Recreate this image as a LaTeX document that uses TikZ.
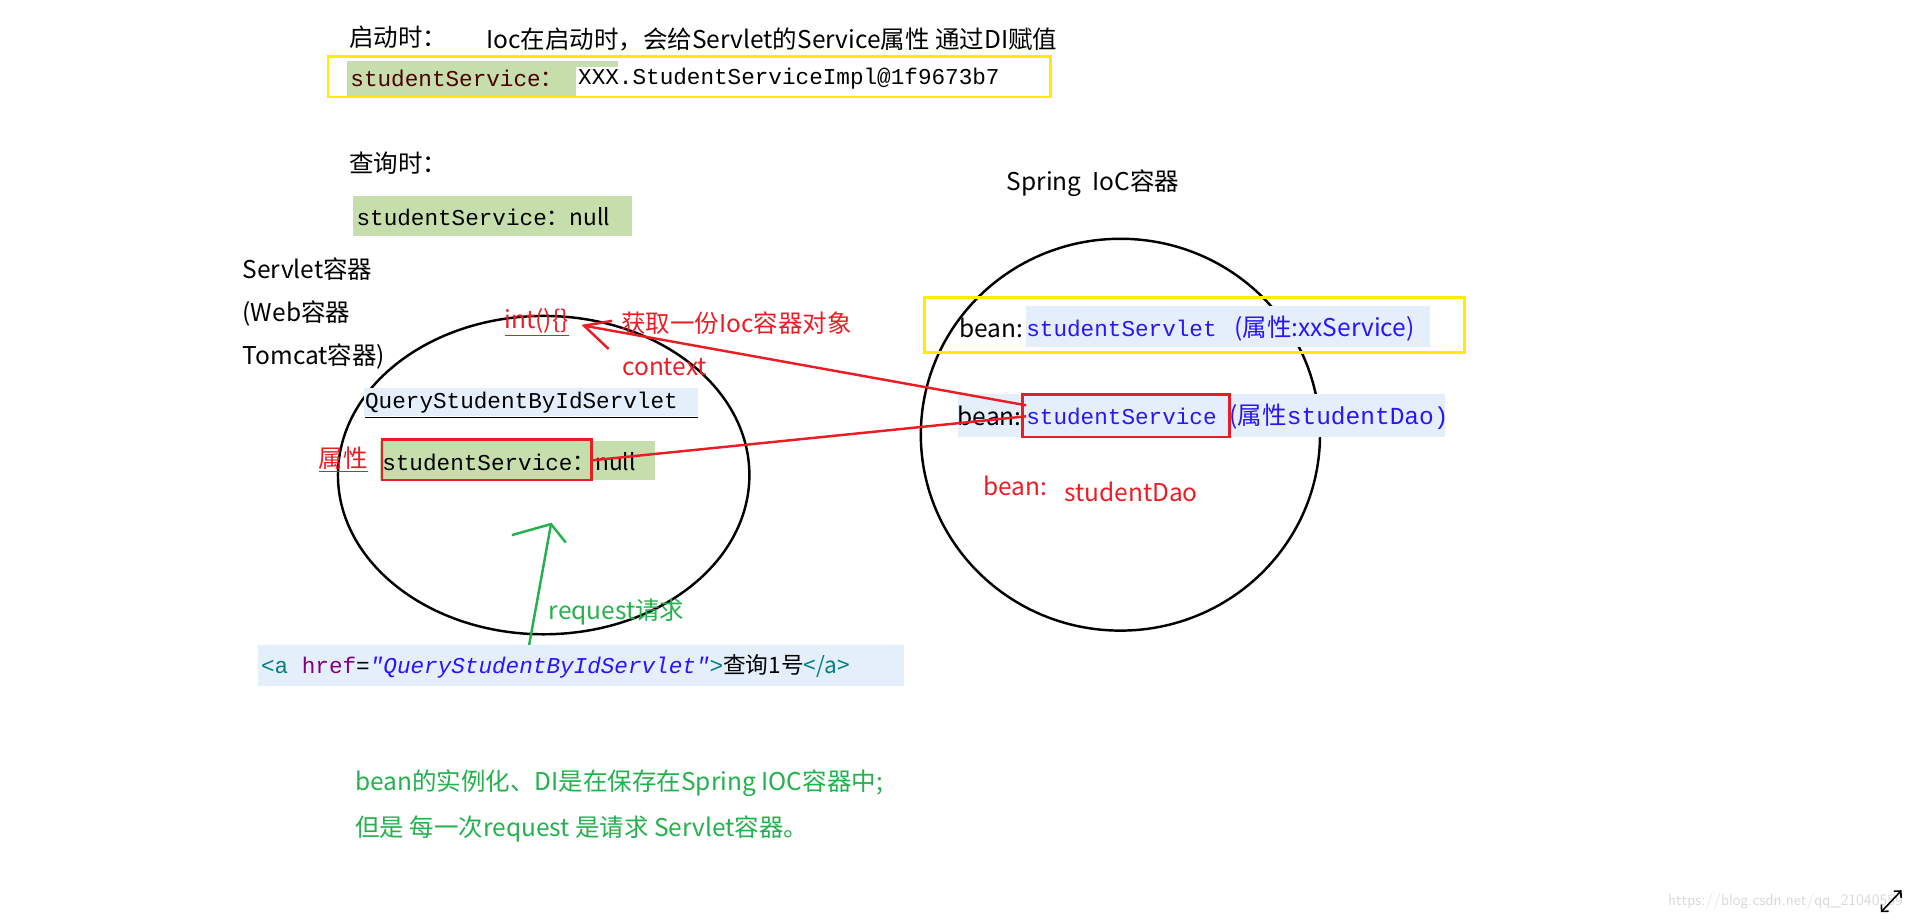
\documentclass[tikz,border=0pt]{standalone}
\usepackage{fontspec}
\setmainfont{Noto Sans CJK SC}
\setmonofont{Liberation Mono}
\newfontfamily\cjk{Noto Sans CJK SC}
\usetikzlibrary{arrows.meta}
\definecolor{hlgreen}{RGB}{198,221,172}
\definecolor{hlblue}{RGB}{229,239,252}
\definecolor{ylw}{RGB}{255,236,0}
\definecolor{rd}{RGB}{236,28,36}
\definecolor{gr}{RGB}{34,177,76}
\definecolor{bl}{RGB}{40,20,255}
\definecolor{teal2}{RGB}{0,128,128}
\definecolor{purp}{RGB}{128,0,128}
\tikzset{
 t/.style={anchor=west,inner sep=0pt,font=\fontsize{20}{24}\selectfont},
 m/.style={anchor=west,inner sep=0pt,font=\fontsize{18.5}{22}\selectfont\ttfamily},
 circ/.style={draw=black,line width=2pt},
 rline/.style={draw=rd,line width=2pt},
}
\begin{document}
\begin{tikzpicture}[x=1pt,y=-1pt]
\useasboundingbox (0,0) rectangle (1568,751);
% top
\node[t] (start) at (285,30) {启动时：};
\node[t] (ioc) at (397,32) {Ioc在启动时，会给Servlet的Service属性 通过DI赋值};
\fill[hlgreen] (283,50) rectangle (470,78);
\fill[hlgreen] (283,50) rectangle (505,55);
\node[m,text=black!70!red] (ss1) at (286,64) {studentService\cjk{：}};
\node[m] (impl) at (472,64) {XXX.StudentServiceImpl@1f9673b7};
\draw[ylw,line width=2pt] (268,46) rectangle (858,79);
\node[t] (query) at (285,133) {查询时：};
\fill[hlgreen] (288,160) rectangle (516,193);
\node[m] (ss2) at (291,177) {studentService\cjk{：}\cjk{null}};
\node[t] (spring) at (822,150) {Spring \ IoC容器};
\node[t] (sc1) at (198,220) {Servlet容器};
\node[t] (sc2) at (198,256) {(Web容器};
\node[t] (sc3) at (198,291) {Tomcat容器)};
% ellipses
\draw[circ] (444,388) ellipse [x radius=168,y radius=130];
\draw[circ] (915,355) ellipse [x radius=163,y radius=160];
% left contents
\node[t,text=rd] (init) at (412,263) {\underline{int()\{\}}};
\node[t,text=rd] (get) at (507,264) {获取一份Ioc容器对象};
\node[t,text=rd] (ctx) at (508,300) {context};
\fill[hlblue] (297,317) rectangle (570,340);
\node[m] (qs) at (298,329) {QueryStudentByIdServlet};
\draw[line width=1.2pt] (298,341) -- (570,341);
\node[t,text=rd] (attr) at (260,375) {\underline{属性}};
\fill[hlgreen] (310,360) rectangle (535,392);
\node[m] (ss3) at (312,377) {studentService\cjk{：}\cjk{null}};
\draw[rline] (312,359) rectangle (483,392);
\coordinate (boxL) at (483,376);
\coordinate (tip) at (477,266);
% right contents
\draw[ylw,line width=2pt] (755,243) rectangle (1196,288);
\fill[hlblue] (838,250) rectangle (1168,283);
\node[t] (b1) at (783,268) {bean:};
\node[m,text=bl] (b1s) at (838,268) {studentServlet};
\node[t,text=bl] (b1a) at (1008,268) {(属性:xxService)};
\fill[hlblue] (782,322) rectangle (1180,357);
\node[t] (b2) at (782,340) {bean:};
\node[m,text=bl] (b2s) at (838,340) {studentService};
\node[t,text=bl] (b2a) at (1004,340) {(属性\ttfamily studentDao)};
\draw[rline] (835,322) rectangle (1004,357);
\coordinate (r1) at (838,331);
\coordinate (r2) at (838,340);
\node[t,text=rd] (b3) at (803,397) {bean:};
\node[t,text=rd] (b3s) at (869,402) {studentDao};
% red connectors
\draw[rline] (r1) -- (tip);
\draw[rline] (r2) -- (boxL);
\draw[rline] (500,262) -- (tip) -- (497,285);
% request
\coordinate (reqA) at (431,533);
\coordinate (reqB) at (450,428);
\draw[gr,line width=2pt] (reqA) -- (reqB);
\draw[gr,line width=2pt] (418,437) -- (reqB) -- (462,443);
\node[t,text=gr] (req) at (448,500) {request请求};
% link
\fill[hlblue] (211,527) rectangle (738,560);
\node[m] (link) at (213,544) {\textcolor{teal2}{<a} \textcolor{purp}{href}=\textcolor{bl}{\itshape"QueryStudentByIdServlet"}\textcolor{teal2}{>}\cjk{查询1号}\textcolor{teal2}{</a>}};
% bottom
\node[t,text=gr] (n1) at (290,640) {bean的实例化、DI是在保存在Spring IOC容器中;};
\node[t,text=gr] (n2) at (290,677) {但是 每一次request 是请求 Servlet容器。};
\node[anchor=west,inner sep=0pt,text=black!15,font=\fontsize{13}{15}\selectfont\sffamily] (wm) at (1362,736) {https://blog.csdn.net/qq\_21040559};
\draw[line width=1.3pt,{Straight Barb[length=4pt]}-{Straight Barb[length=4pt]}] (1536,745) -- (1553,727);
\end{tikzpicture}
\end{document}
